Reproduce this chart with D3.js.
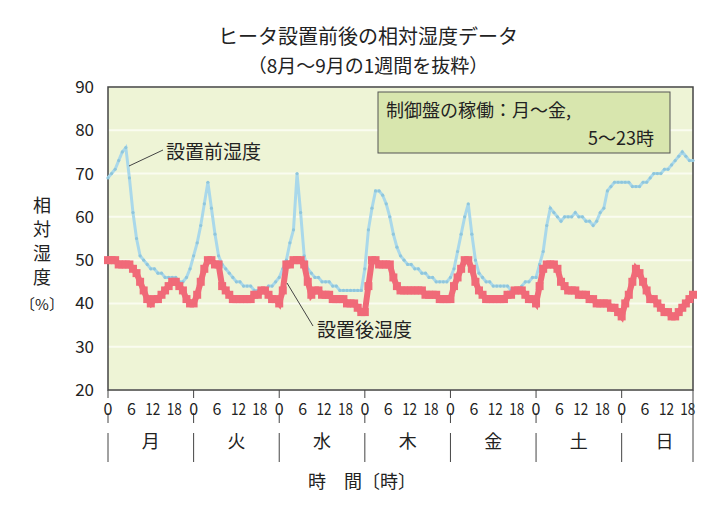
<!DOCTYPE html>
<html><head><meta charset="utf-8">
<script src="https://cdn.jsdelivr.net/npm/d3@7"></script>
<style>body{margin:0;background:#fff}text{font-family:"Noto Sans CJK JP","Noto Sans",sans-serif;fill:#222}</style>
</head><body><svg id="c" width="728" height="514"></svg>
<script>
const days=["月","火","水","木","金","土","日"];
const hourTicks=[0,6,12,18];
const yTicks=[20,30,40,50,60,70,80,90];
const before=[69,70,71,73,75,76,69,61,55,51,50,49,48,48,47,47,46,46,46,46,45,45,46,48,
51,54,58,63,68,62,56,51,49,48,47,46,45,45,44,44,44,43,43,43,43,44,44,45,
46,48,50,54,57,70,61,51,48,47,46,46,45,45,45,44,44,43,43,43,43,43,43,43,
48,57,62,66,66,65,63,60,56,53,51,50,49,49,48,48,47,47,46,46,45,45,45,45,
46,48,52,56,60,63,56,50,47,46,45,45,44,44,44,44,44,43,43,43,44,45,45,46,
46,49,52,58,62,61,60,59,60,60,60,61,60,60,59,59,58,59,61,62,66,67,68,68,
68,68,68,67,67,67,68,68,69,70,70,70,71,71,72,73,74,75,74,73,73];
const after=[50,50,50,49,49,49,49,48,47,45,43,41,40,41,41,42,43,44,45,45,44,43,41,40,
40,42,45,48,50,50,49,49,44,43,42,41,41,41,41,41,41,42,42,43,43,42,41,41,
40,43,49,49,50,50,50,49,45,42,43,43,42,42,42,41,41,41,41,40,40,40,39,38,
38,44,50,50,49,49,49,49,46,44,43,43,43,43,43,43,43,42,42,42,42,41,41,41,
41,44,46,48,50,50,48,45,43,42,41,41,41,41,41,41,42,42,43,43,43,42,41,41,
40,44,48,49,49,49,48,45,44,43,43,43,42,42,42,41,41,40,40,40,40,39,39,38,
37,40,42,45,48,47,45,43,41,41,40,39,38,38,37,37,38,39,40,41,42];
const svg=d3.select("#c");
const L=108,R=693,T=87,B=390;
const x=d3.scaleLinear().domain([0,164]).range([L,R]);
const y=d3.scaleLinear().domain([20,90]).range([B,T]);
svg.append("text").attr("x",368).attr("y",44).attr("text-anchor","middle").attr("font-size",20).text("ヒータ設置前後の相対湿度データ");
svg.append("text").attr("x",368).attr("y",73).attr("text-anchor","middle").attr("font-size",19).text("（8月～9月の1週間を抜粋）");
svg.append("rect").attr("x",L).attr("y",T).attr("width",R-L).attr("height",B-T).attr("fill","#eef4d6");
yTicks.forEach(t=>{svg.append("line").attr("x1",L).attr("x2",R).attr("y1",y(t)).attr("y2",y(t)).attr("stroke","#fafcf0").attr("stroke-width",2);
 svg.append("text").attr("x",94).attr("y",y(t)+6).attr("text-anchor","end").attr("font-size",17).attr("font-family","Liberation Serif").text(t);});
svg.append("rect").attr("x",L).attr("y",T).attr("width",R-L).attr("height",B-T).attr("fill","none").attr("stroke","#444").attr("stroke-width",1.5);
const line=d3.line().x((d,i)=>x(i)).y(d=>y(d));
svg.append("path").datum(before).attr("d",line).attr("fill","none").attr("stroke","#a9d8ea").attr("stroke-width",3);
svg.selectAll(".bm").data(before).join("circle").attr("cx",(d,i)=>x(i)).attr("cy",d=>y(d)).attr("r",1.6).attr("fill","#8fc6dc");
svg.append("path").datum(after).attr("d",line).attr("fill","none").attr("stroke","#f06a78").attr("stroke-width",6);
svg.selectAll(".am").data(after).join("rect").attr("x",(d,i)=>x(i)-4).attr("y",d=>y(d)-4).attr("width",8).attr("height",8).attr("fill","#f06a78");
svg.append("rect").attr("x",378).attr("y",92).attr("width",292).attr("height",61).attr("fill","#d8e6ae").attr("stroke","#555");
svg.append("text").attr("x",386).attr("y",117).attr("font-size",18).text("制御盤の稼働：月～金,");
svg.append("text").attr("x",654).attr("y",145).attr("text-anchor","end").attr("font-size",18).text("5～23時");
svg.append("line").attr("x1",129).attr("y1",166).attr("x2",163).attr("y2",150).attr("stroke","#444");
svg.append("text").attr("x",166).attr("y",159).attr("font-size",19).text("設置前湿度");
svg.append("line").attr("x1",287).attr("y1",283).attr("x2",313).attr("y2",326).attr("stroke","#444");
svg.append("text").attr("x",317).attr("y",337).attr("font-size",19).text("設置後湿度");
["相","対","湿","度"].forEach((c,i)=>svg.append("text").attr("x",42).attr("y",212+i*24).attr("text-anchor","middle").attr("font-size",18).text(c));
svg.append("text").attr("x",42).attr("y",310).attr("text-anchor","middle").attr("font-size",15).text("〔%〕");
days.forEach((d,i)=>{
 const x0=x(i*24);
 svg.append("line").attr("x1",x0).attr("x2",x0).attr("y1",B).attr("y2",B+8).attr("stroke","#444");
 svg.append("line").attr("x1",x0).attr("x2",x0).attr("y1",B+23).attr("y2",B+33).attr("stroke","#444");
 svg.append("line").attr("x1",x0).attr("x2",x0).attr("y1",B+43).attr("y2",B+72).attr("stroke","#444");
 hourTicks.forEach(h=>{if(i*24+h<=164)svg.append("text").attr("x",x(i*24+h)+(h==0?0:2)).attr("y",B+25).attr("text-anchor","middle").attr("font-size",16).attr("font-family","Liberation Serif").attr("textLength",h>=10?15:null).attr("lengthAdjust","spacingAndGlyphs").text(h);});
 svg.append("text").attr("x",x(i*24+12)).attr("y",B+58).attr("text-anchor","middle").attr("font-size",18).text(d);
});
svg.append("line").attr("x1",R).attr("x2",R).attr("y1",B).attr("y2",B+72).attr("stroke","#444");
svg.append("text").attr("x",362).attr("y",488).attr("text-anchor","middle").attr("font-size",18).attr("xml:space","preserve").text("時　間〔時〕");
</script></body></html>
